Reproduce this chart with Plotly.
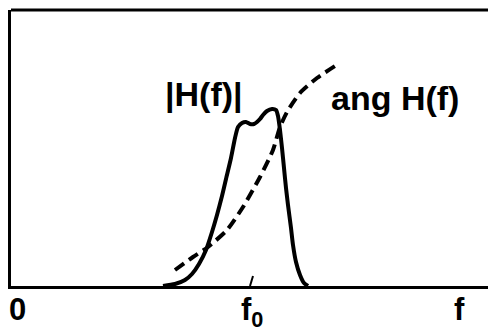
import plotly.graph_objects as go

# frequency axis (arbitrary units), magnitude |H(f)|
mag_f = [152, 164, 174, 181, 188, 195, 201, 206, 211, 215, 220, 224, 227, 231, 235, 239, 243, 246, 249, 252, 256, 261, 265, 267, 269, 271, 273, 275, 277, 280, 282, 285, 289, 293, 297]
mag_v = [0, 2, 6, 12, 22, 36, 54, 71, 90, 107, 128, 148, 159, 163, 164, 162, 162, 164, 167, 171, 175, 177, 176, 170, 156, 138, 118, 98, 81, 58, 41, 24, 11, 3, 0]

# phase ang H(f)
ph_f = [164, 182, 197, 216, 232, 249, 262, 269, 276, 289, 306, 324]
ph_v = [16, 29, 39, 56, 79, 109, 136, 159, 174, 193, 208, 220]

f0 = 241
x_labels = [(6, "0"), (f0, "f<sub>0</sub>"), (448, "f")]
X_MAX, Y_MAX = 479, 276

fig = go.Figure()
fig.add_trace(go.Scatter(x=mag_f, y=mag_v, mode="lines",
                         line=dict(color="black", width=4, shape="spline", smoothing=0.6),
                         hoverinfo="skip"))
fig.add_trace(go.Scatter(x=ph_f, y=ph_v, mode="lines",
                         line=dict(color="black", width=4, dash="11px,6px", shape="spline", smoothing=0.6),
                         hoverinfo="skip"))
# f0 tick
fig.add_trace(go.Scatter(x=[f0 - 2, f0 + 1], y=[0, 10], mode="lines",
                         line=dict(color="black", width=2), hoverinfo="skip"))

font = dict(family="Liberation Sans, Arial, sans-serif", size=34, color="black")
fig.add_annotation(x=193, y=192, text="<b>|H(f)|</b>", showarrow=False, font=font)
fig.add_annotation(x=384, y=188, text="<b>ang H(f)</b>", showarrow=False, font=font)

lfont = dict(family="Liberation Sans, Arial, sans-serif", size=31, color="black")
for xv, t in x_labels:
    fig.add_annotation(x=xv, y=0, yref="y", text="<b>" + t + "</b>", showarrow=False,
                       font=lfont, yanchor="top", yshift=-4)

# frame top and right
fig.add_shape(type="line", xref="paper", yref="paper", x0=0, x1=1, y0=1, y1=1,
              line=dict(color="black", width=3))
fig.add_shape(type="line", xref="paper", yref="paper", x0=1, x1=1, y0=0, y1=1,
              line=dict(color="#dddddd", width=1))

fig.update_layout(
    width=496, height=331,
    margin=dict(l=3, r=14, t=2, b=53),
    paper_bgcolor="white", plot_bgcolor="white",
    showlegend=False,
    xaxis=dict(range=[0, X_MAX], showgrid=False, zeroline=False, showticklabels=False,
               ticks="", showline=True, linecolor="black", linewidth=3),
    yaxis=dict(range=[0, Y_MAX], showgrid=False, zeroline=False, showticklabels=False,
               ticks="", showline=True, linecolor="black", linewidth=3),
)
fig.write_html("out.html")
